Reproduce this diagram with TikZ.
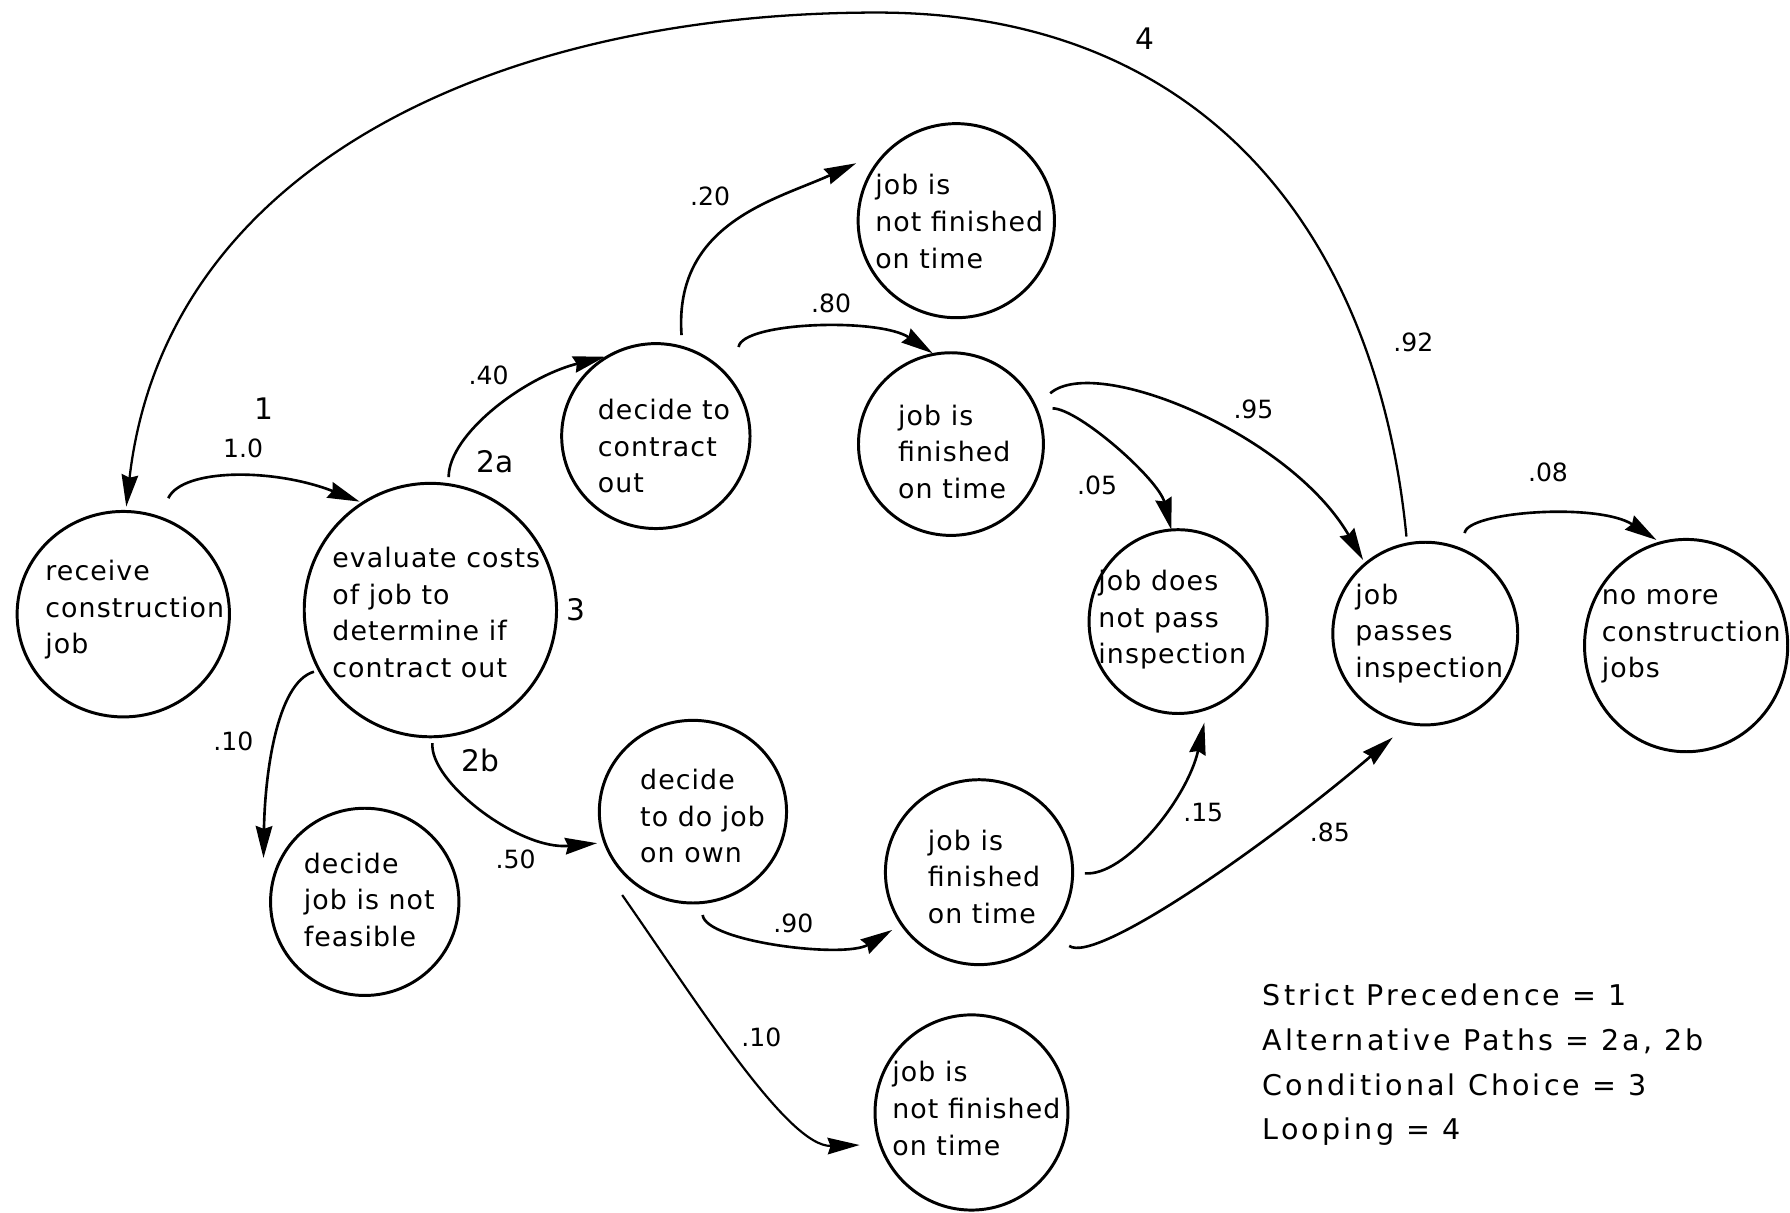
\documentclass[tikz,border=0pt]{standalone}
\usepackage{fontspec}
\setmainfont{DejaVu Sans}
\newfontfamily\statefont{DejaVu Sans}[LetterSpace=4]
\newfontfamily\legendfont{DejaVu Sans}[LetterSpace=11]
\usetikzlibrary{arrows.meta,shapes.geometric,calc}

\begin{document}
\begin{tikzpicture}[x=1pt,y=-1pt,
  state/.style={draw, ellipse, line width=2.6pt, inner sep=0pt, outer sep=0pt},
  txt/.style={align=left, inner sep=0pt, anchor=west, font=\statefont\fontsize{23.5}{32}\selectfont},
  flow/.style={line width=2.3pt, -{Stealth[length=28pt,width=14.5pt,inset=2.5pt]}},
  prob/.style={font=\fontsize{22}{26}\selectfont, inner sep=0pt},
  kind/.style={font=\fontsize{26}{30}\selectfont, inner sep=0pt},
  legend/.style={font=\legendfont\fontsize{25}{30}\selectfont, inner sep=0pt, anchor=base west},
]
% page
\fill[white] (0,0) rectangle (1568,1062);
\useasboundingbox (0,0) rectangle (1568,1062);

% states
\node[state, minimum width=186pt, minimum height=180pt,
  label={[txt, xshift=24.6pt, yshift=3.7pt]west:{receive\\construction\\job}}] (recv) at (108,538) {};
\node[state, minimum width=221pt, minimum height=222pt,
  label={[txt, xshift=24.5pt, yshift=-2pt]west:{evaluate costs\\of job to\\determine if\\contract out}}] (eval) at (377,534.4) {};
\node[state, minimum width=165pt, minimum height=162pt,
  label={[txt, xshift=31.5pt, yshift=-9pt]west:{decide to\\contract\\out}}] (contract) at (574.5,382) {};
\node[state, minimum width=172pt, minimum height=170pt,
  label={[txt, xshift=14.8pt, yshift=-0.7pt]west:{job is\\not finished\\on time}}] (notfin1) at (837.7,193.3) {};
\node[state, minimum width=162pt, minimum height=160pt,
  label={[txt, xshift=34.6pt, yshift=-6.6pt]west:{job is\\finished\\on time}}] (fin1) at (833,389) {};
\node[state, minimum width=156pt, minimum height=161pt,
  label={[txt, xshift=8pt, yshift=1.5pt]west:{job does\\not pass\\inspection}}] (nopass) at (1032,544.5) {};
\node[state, minimum width=162pt, minimum height=160pt,
  label={[txt, xshift=19.5pt]west:{job\\passes\\inspection}}] (pass) at (1248.5,555) {};
\node[state, minimum width=178pt, minimum height=186pt,
  label={[txt, xshift=15pt, yshift=7.8pt]west:{no more\\construction\\jobs}}] (nomore) at (1477,565.5) {};
\node[state, minimum width=165pt, minimum height=164pt,
  label={[txt, xshift=29pt, yshift=2pt]west:{decide\\job is not\\feasible}}] (notfeas) at (319.5,790) {};
\node[state, minimum width=164pt, minimum height=160pt,
  label={[txt, xshift=35.6pt, yshift=-4pt]west:{decide\\to do job\\on own}}] (own) at (607,711) {};
\node[state, minimum width=164pt, minimum height=162pt,
  label={[txt, xshift=37pt, yshift=-4pt]west:{job is\\finished\\on time}}] (fin2) at (857.6,764) {};
\node[state, minimum width=169pt, minimum height=171pt,
  label={[txt, xshift=15pt, yshift=3.5pt]west:{job is\\not finished\\on time}}] (notfin2) at (851,974.5) {};

% transitions
\draw[flow] ($(recv)+(39.4,-101.6)$) .. controls (160,410) and (240,410) .. ($(eval)+(-62,-95)$);
\draw[flow] ($(eval)+(16,-116.4)$) .. controls (393,380) and (460,330) .. ($(contract)+(-44.5,-69.5)$);
\draw[flow] ($(eval)+(-102,54)$) .. controls (242,598) and (232,680) .. ($(notfeas)+(-88.7,-38.4)$);
\draw[flow] ($(eval)+(1.8,116.6)$) .. controls (376,685) and (455,745) .. ($(own)+(-84,27.6)$);
\draw[flow] ($(contract)+(22.5,-88.5)$) .. controls (590,195) and (680,175) .. ($(notfin1)+(-87.7,-50.3)$);
\draw[flow] ($(contract)+(72.5,-78)$) .. controls (650,282) and (770,278) .. ($(fin1)+(-16,-79.5)$);
\draw[flow] ($(fin1)+(87,-44.5)$) .. controls (960,310) and (1130,380) .. ($(pass)+(-54.5,-64.5)$);
\draw[flow] ($(fin1)+(89,-31.3)$) .. controls (945,358) and (1015,420) .. ($(nopass)+(-6,-80.5)$);
\draw[flow] ($(pass)+(34.5,-88)$) .. controls (1285,448) and (1400,440) .. ($(nomore)+(-26,-92.5)$);
\draw[flow] ($(own)+(8.5,90.5)$) .. controls (618,825) and (740,840) .. ($(fin2)+(-76.1,50.6)$);
\draw[flow, line width=1.9pt] ($(own)+(-62,73)$) .. controls (610,877) and (690,1005) .. ($(notfin2)+(-98,28.5)$);
\draw[flow] ($(fin2)+(92.8,1)$) .. controls (985,768) and (1040,700) .. ($(nopass)+(23,88.5)$);
\draw[flow] ($(fin2)+(79,64.6)$) .. controls (960,845) and (1110,740) .. ($(pass)+(-28.5,91)$);

% loop back to the start
\coordinate (looptop) at (768,11);
\draw[flow, line width=2pt] ($(pass)+(-16.5,-85)$) .. controls (1208,220) and (1068,11) .. (looptop)
  .. controls (438,11) and (145,144) .. ($(recv)+(2.6,-94.2)$);

% probabilities
\node[prob] (p1) at (213,392.6) {1.0};
\node[prob] (p2) at (428,328.5) {.40};
\node[prob] (p3) at (204.5,649.7) {.10};
\node[prob] (p4) at (451.7,753) {.50};
\node[prob] (p5) at (622,172) {.20};
\node[prob] (p6) at (728,265.6) {.80};
\node[prob] (p7) at (1098,359) {.95};
\node[prob] (p8) at (961,425) {.05};
\node[prob] (p9) at (1238,299.5) {.92};
\node[prob] (p10) at (1356,413.5) {.08};
\node[prob] (p11) at (695,808.7) {.90};
\node[prob] (p12) at (667,909) {.10};
\node[prob] (p13) at (1054,712) {.15};
\node[prob] (p14) at (1165,729) {.85};

% pattern markers
\node[kind] (k1) at (231,357.6) {1};
\node[kind] (k2a) at (433.6,404.6) {2a};
\node[kind] (k2b) at (420.6,666) {2b};
\node[kind] (k3) at (504.5,534) {3};
\node[kind] (k4) at (1002.6,33.6) {4};

% key
\node[legend] (leg1) at (1106,880.4) {Strict Precedence = 1};
\node[legend] (leg2) at (1106,919.8) {Alternative Paths = 2a, 2b};
\node[legend] (leg3) at (1106,959.2) {Conditional Choice = 3};
\node[legend] (leg4) at (1106,998.6) {Looping = 4};
\end{tikzpicture}
\end{document}
